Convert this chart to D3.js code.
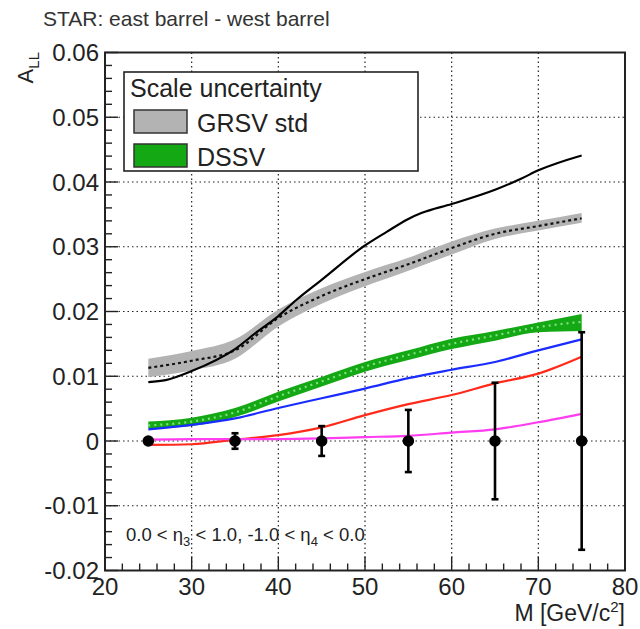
<!DOCTYPE html>
<html><head><meta charset="utf-8">
<script src="https://cdn.jsdelivr.net/npm/d3@7"></script>
<style>body{margin:0;background:#fff}svg{display:block;font-family:"Liberation Sans",Arial,Helvetica,sans-serif}</style>
</head><body><svg id="c" width="640" height="629"></svg>
<script>
// ---------------- data ----------------
const massGrid = [25,30,35,40,45,50,55,60,65,70,75];
const grsvLow    = [0.0099,0.0109,0.0127,0.0177,0.0212,0.0239,0.0263,0.0288,0.0312,0.0325,0.0337];
const grsvHigh   = [0.0127,0.0139,0.0157,0.0203,0.0236,0.0261,0.0283,0.0308,0.0328,0.0340,0.0352];
const grsvCenter = [0.0113,0.0124,0.0140,0.0190,0.0224,0.0250,0.0273,0.0298,0.0320,0.0332,0.0344];
const dssvLow    = [0.0019,0.0023,0.0037,0.0061,0.0084,0.0107,0.0125,0.0142,0.0155,0.0168,0.0170];
const dssvHigh   = [0.0030,0.0036,0.0051,0.0076,0.0099,0.0122,0.0140,0.0158,0.0170,0.0183,0.0196];
const dssvCenter = [0.0024,0.0030,0.0044,0.0069,0.0092,0.0115,0.0133,0.0150,0.0163,0.0176,0.0184];
const blueCurve    = [0.0018,0.0025,0.0035,0.0051,0.0066,0.0081,0.0097,0.0110,0.0122,0.0140,0.0157];
const redCurve     = [-0.0006,-0.0005,0.0002,0.0009,0.0021,0.0040,0.0057,0.0071,0.0089,0.0104,0.0130];
const magentaCurve = [0.0002,0.0003,0.0003,0.0003,0.0004,0.0006,0.0008,0.0013,0.0018,0.0029,0.0042];
const blackMass  = [25,27,30,35,37.5,40,42,45,50,52.5,55,56.5,60,65,68,70,75];
const blackCurve = [0.0091,0.0094,0.0108,0.0142,0.0168,0.0193,0.0217,0.0249,0.0302,0.0323,0.0343,0.0352,0.0366,0.0388,0.0405,0.0418,0.0441];
const pointMass  = [25,35,45,55,65,75];
const pointALL   = [0,0,0,0,0,0];
const pointErr   = [0.0003,0.0012,0.0023,0.0048,0.0090,0.0168];
const xTicks = [20,30,40,50,60,70,80];
const yTicks = [-0.02,-0.01,0,0.01,0.02,0.03,0.04,0.05,0.06];
const yTickLabels = ["-0.02","-0.01","0","0.01","0.02","0.03","0.04","0.05","0.06"];
const legendLabels = ["GRSV std","DSSV"];

// ---------------- layout ----------------
const svg = d3.select("#c");
const L = 105, R = 625, T = 52.5, B = 570.5;
const x = d3.scaleLinear().domain([20,80]).range([L,R]);
const y = d3.scaleLinear().domain([-0.02,0.06]).range([B,T]);
const ink = "#222";

// grid
const g = svg.append("g");
g.selectAll("line.vg").data(xTicks.filter(v=>v>20&&v<80)).join("line")
  .attr("x1",d=>x(d)).attr("x2",d=>x(d)).attr("y1",T).attr("y2",B)
  .attr("stroke","#222").attr("stroke-width",1.2).attr("stroke-dasharray","1.5,3");
g.selectAll("line.hg").data(yTicks.filter(v=>v>-0.02&&v<0.06)).join("line")
  .attr("x1",L).attr("x2",R).attr("y1",d=>y(d)).attr("y2",d=>y(d))
  .attr("stroke","#222").attr("stroke-width",1.2).attr("stroke-dasharray","1.5,3");

// bands
const band = (lo,hi)=>d3.area().x((d,i)=>x(massGrid[i])).y0((d,i)=>y(lo[i])).y1((d,i)=>y(hi[i])).curve(d3.curveMonotoneX)(massGrid);
const line = (xs,ys)=>d3.line().x((d,i)=>x(xs[i])).y((d,i)=>y(ys[i])).curve(d3.curveMonotoneX)(xs);

svg.append("path").attr("d",band(grsvLow,grsvHigh)).attr("fill","#b3b3b3");
svg.append("path").attr("d",band(dssvLow,dssvHigh)).attr("fill","#14a814");
svg.append("path").attr("d",line(massGrid,grsvCenter)).attr("fill","none").attr("stroke","#111").attr("stroke-width",2.2).attr("stroke-dasharray","3,3");
svg.append("path").attr("d",line(massGrid,dssvCenter)).attr("fill","none").attr("stroke","#7fe07f").attr("stroke-width",2.2).attr("stroke-dasharray","2,4");
svg.append("path").attr("d",line(massGrid,blueCurve)).attr("fill","none").attr("stroke","#1a2cff").attr("stroke-width",2.2);
svg.append("path").attr("d",line(massGrid,redCurve)).attr("fill","none").attr("stroke","#ff2a1a").attr("stroke-width",2.2);
svg.append("path").attr("d",line(massGrid,magentaCurve)).attr("fill","none").attr("stroke","#ff3cf0").attr("stroke-width",2.2);
svg.append("path").attr("d",line(blackMass,blackCurve)).attr("fill","none").attr("stroke","#000").attr("stroke-width",2.2);

// data points
const pts = svg.append("g");
pointMass.forEach((m,i)=>{
  const cx = x(m), lo = y(pointALL[i]-pointErr[i]), hi = y(pointALL[i]+pointErr[i]);
  pts.append("line").attr("x1",cx).attr("x2",cx).attr("y1",lo).attr("y2",hi).attr("stroke","#000").attr("stroke-width",2.6);
  [lo,hi].forEach(v=>pts.append("line").attr("x1",cx-3.5).attr("x2",cx+3.5).attr("y1",v).attr("y2",v).attr("stroke","#000").attr("stroke-width",2.6));
  pts.append("circle").attr("cx",cx).attr("cy",y(pointALL[i])).attr("r",5.8).attr("fill","#000");
});

// axes ticks (inside)
const ax = svg.append("g").attr("stroke",ink).attr("stroke-width",1.4);
d3.range(-0.02,0.0601,0.002).forEach(v=>{
  const major = Math.abs(Math.round(v*100)-v*100)<1e-6;
  ax.append("line").attr("x1",L).attr("x2",L+(major?13:7)).attr("y1",y(v)).attr("y2",y(v));
});
d3.range(20,80.01,2).forEach(v=>{
  const major = v%10===0;
  ax.append("line").attr("x1",x(v)).attr("x2",x(v)).attr("y1",B).attr("y2",B-(major?14:7));
});
svg.append("rect").attr("x",L).attr("y",T).attr("width",R-L).attr("height",B-T)
  .attr("fill","none").attr("stroke",ink).attr("stroke-width",2);

// tick labels
svg.append("g").selectAll("text").data(yTicks).join("text")
  .attr("x",99).attr("y",d=>y(d)).attr("dy","0.36em").attr("text-anchor","end")
  .attr("font-size",24).attr("fill",ink).text((d,i)=>yTickLabels[i]);
svg.append("g").selectAll("text").data(xTicks).join("text")
  .attr("x",d=>x(d)).attr("y",595).attr("text-anchor","middle")
  .attr("font-size",24).attr("fill",ink).text(d=>d);

// axis titles
const yt = svg.append("text").attr("transform","translate(33,52) rotate(-90)").attr("text-anchor","end").attr("fill",ink);
yt.append("tspan").attr("font-size",22).text("A");
yt.append("tspan").attr("font-size",15).attr("dy",6).text("LL");
const xt = svg.append("text").attr("x",625).attr("y",621).attr("text-anchor","end").attr("fill",ink).attr("font-size",23);
xt.append("tspan").text("M [GeV/c");
xt.append("tspan").attr("font-size",15).attr("dy",-9).text("2");
xt.append("tspan").attr("dy",9).text("]");

// title
svg.append("text").attr("x",43).attr("y",26).attr("font-size",21).attr("fill","#333").text("STAR: east barrel - west barrel");

// annotation
const an = svg.append("text").attr("x",126).attr("y",541).attr("font-size",18.5).attr("fill",ink);
an.append("tspan").text("0.0 < \u03B7");
an.append("tspan").attr("font-size",13).attr("dy",5).text("3");
an.append("tspan").attr("dy",-5).text(" < 1.0, -1.0 < \u03B7");
an.append("tspan").attr("font-size",13).attr("dy",5).text("4");
an.append("tspan").attr("dy",-5).text(" < 0.0");

// legend
const lg = svg.append("g");
lg.append("rect").attr("x",124).attr("y",72).attr("width",294).attr("height",99).attr("fill","#fff").attr("stroke",ink).attr("stroke-width",1.6);
lg.append("text").attr("x",130).attr("y",97).attr("font-size",25).attr("fill",ink).text("Scale uncertainty");
const swFill = ["#b3b3b3","#14a814"];
legendLabels.forEach((lab,i)=>{
  const yy = 110 + i*34;
  lg.append("rect").attr("x",134).attr("y",yy).attr("width",53).attr("height",23).attr("fill",swFill[i]).attr("stroke","#333").attr("stroke-width",1.5);
  lg.append("text").attr("x",197).attr("y",yy+22).attr("font-size",25).attr("fill",ink).text(lab);
});
</script></body></html>
